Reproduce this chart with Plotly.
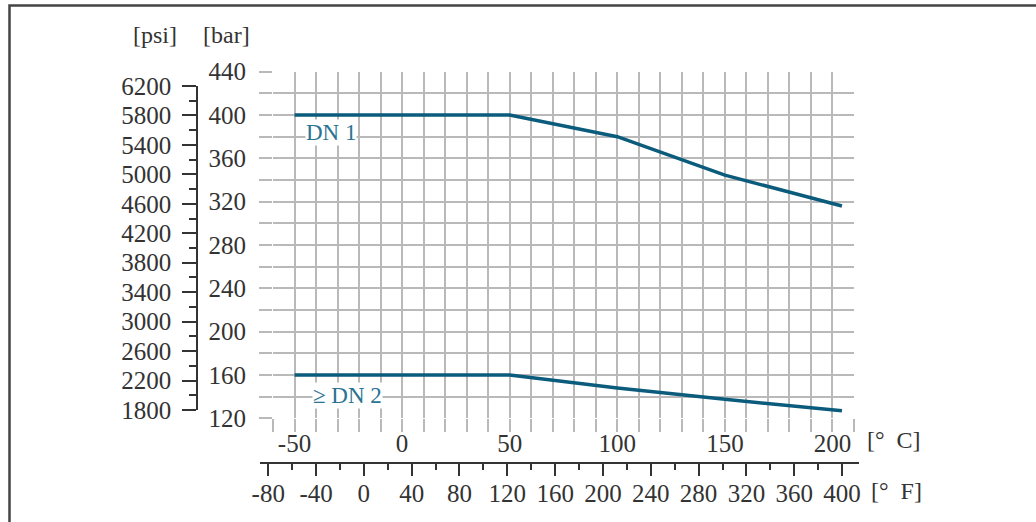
import plotly.graph_objs as go

# pressure / temperature rating curves (bar over degC)
temp_c = [-50, 50, 100, 150, 204.4]
dn1_bar = [400, 400, 380, 344.5, 316]
dn2_bar = [160, 160, 148, 137.5, 127]

# tick labels
c_ticks = list(range(-60, 211, 10))
c_labels = [str(t) if t % 50 == 0 else '' for t in c_ticks]
bar_ticks = list(range(120, 441, 20))
bar_labels = [str(t) if t % 40 == 0 else '' for t in bar_ticks]
f_ticks = list(range(-80, 401, 40))
f_labels = [str(t) for t in f_ticks]
psi_ticks = list(range(1800, 6201, 400))
psi_labels = [str(t) for t in psi_ticks]

W, H = 1036, 522
LINE = '#0b5c7c'
TEXT = '#333333'
GRID = '#b9b9b9'
FONT = 'Liberation Serif'


def fx(px):
    return px / W


def fy(py):
    return 1 - py / H


# pixel frame of the grid, used to line up the deg F axis
X0, X1 = 273, 854          # -60 .. 210 degC
pxc = (X1 - X0) / 270.0


def c_at(px):
    return -60 + (px - X0) / pxc


def to_f(c):
    return c * 9 / 5 + 32


fig = go.Figure()
fig.add_trace(go.Scatter(x=temp_c, y=dn1_bar, mode='lines', name='DN 1',
                         line=dict(color=LINE, width=3.5)))
fig.add_trace(go.Scatter(x=temp_c, y=dn2_bar, mode='lines', name='>= DN 2',
                         line=dict(color=LINE, width=3.5)))
# empty trace so the psi / degF axes get drawn
fig.add_trace(go.Scatter(x=[], y=[], xaxis='x2', yaxis='y2', showlegend=False))

tick_font = dict(family=FONT, size=25, color=TEXT)

fig.update_layout(
    width=W, height=H,
    template='none',
    margin=dict(l=0, r=0, t=0, b=0),
    paper_bgcolor='white', plot_bgcolor='rgba(0,0,0,0)',
    showlegend=False,
    font=dict(family=FONT, size=24, color=TEXT),
    xaxis=dict(domain=[fx(X0), fx(X1)], range=[-60, 210],
               tickmode='array', tickvals=c_ticks, ticktext=c_labels,
               ticks='outside', ticklen=13, tickcolor=GRID, tickwidth=1.5,
               showgrid=True, gridcolor=GRID, gridwidth=1.5,
               showline=False, zeroline=False, tickfont=tick_font,
               ticklabelstandoff=-10, automargin=False),
    yaxis=dict(domain=[fy(418.3), fy(71.7)], range=[120, 440],
               tickmode='array', tickvals=bar_ticks, ticktext=bar_labels,
               ticks='outside', ticklen=13, tickcolor=GRID, tickwidth=1.5,
               showgrid=True, gridcolor=GRID, gridwidth=1.5,
               showline=False, zeroline=False, tickfont=tick_font,
               ticklabelstandoff=8, automargin=False),
    yaxis2=dict(domain=[fy(410), fy(86)], range=[1800, 6200],
                anchor='free', position=fx(197), side='left',
                tickmode='array', tickvals=psi_ticks, ticktext=psi_labels,
                ticks='outside', ticklen=14,
                tickcolor=TEXT, tickwidth=1.5,
                minor=dict(dtick=200, tick0=1800, ticks='outside', ticklen=7,
                           tickcolor=TEXT, tickwidth=1.5, showgrid=False),
                showline=True, linecolor=TEXT, linewidth=1.5,
                showgrid=False, zeroline=False, tickfont=tick_font,
                ticklabelstandoff=6, automargin=False),
    xaxis2=dict(domain=[fx(260), fx(859)],
                range=[to_f(c_at(260)), to_f(c_at(859))],
                anchor='free', position=fy(463), side='bottom',
                tickmode='array', tickvals=f_ticks, ticktext=f_labels,
                ticks='outside', ticklen=12,
                tickcolor=TEXT, tickwidth=1.5,
                minor=dict(dtick=20, tick0=-80, ticks='outside', ticklen=6,
                           tickcolor=TEXT, tickwidth=1.5, showgrid=False),
                showline=True, linecolor=TEXT, linewidth=1.5,
                showgrid=False, zeroline=False, tickfont=tick_font,
                ticklabelstandoff=-4, automargin=False),
)

labels = [
    ('[psi]', 155, 35, TEXT, None, 24),
    ('[bar]', 226, 35, TEXT, None, 24),
    ('[°  C]', 894, 440, TEXT, None, 24),
    ('[°  F]', 896, 491, TEXT, None, 24),
    ('DN 1', 331, 132, '#2a7393', 'white', 23),
    ('≥ DN 2', 347, 395, '#2a7393', 'white', 23),
]
for txt, x, y, col, bg, size in labels:
    fig.add_annotation(text=txt, x=fx(x), y=fy(y), xref='paper', yref='paper',
                       showarrow=False, xanchor='center', yanchor='middle',
                       font=dict(family=FONT, size=size, color=col),
                       bgcolor=bg, borderpad=0)

# outer frame (left and top edges only)
fig.add_shape(type='path', xref='paper', yref='paper',
              path=f'M {fx(9.5)},0 L {fx(9.5)},{fy(5.5)} L 1,{fy(5.5)}',
              line=dict(color='#444444', width=2.5))

fig.write_html('out.html', config={'displayModeBar': False},
               post_script="document.body.style.margin='0';")
